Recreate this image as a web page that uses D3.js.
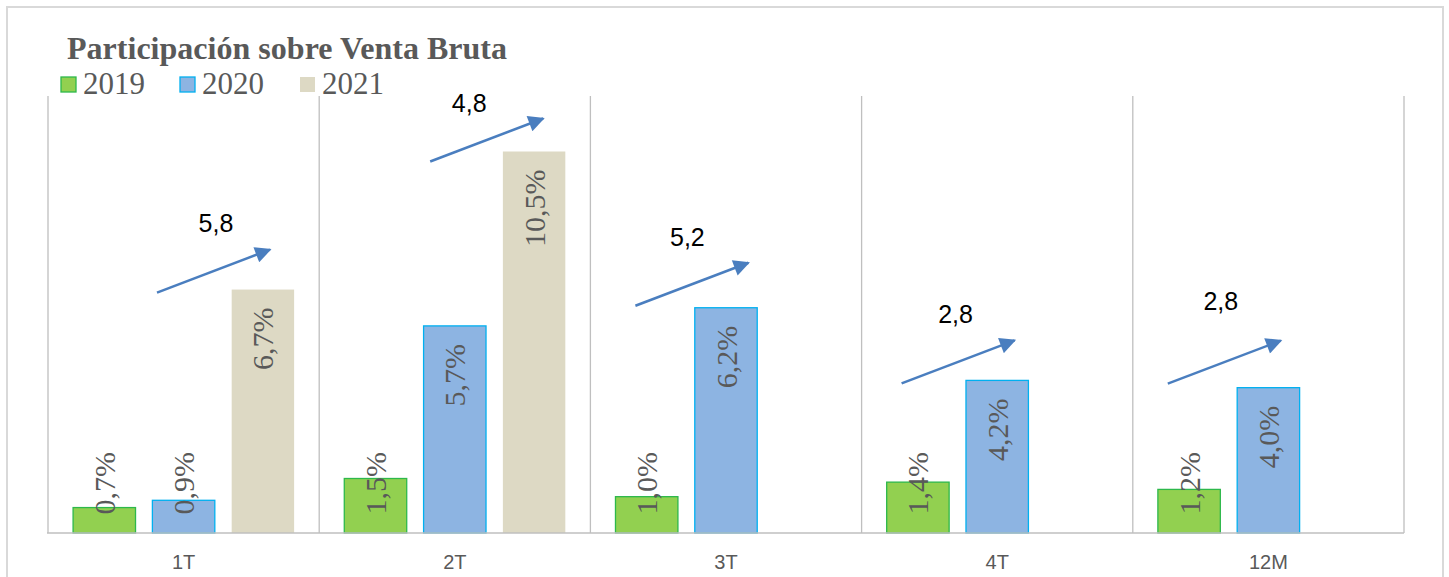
<!DOCTYPE html>
<html>
<head>
<meta charset="utf-8">
<script src="https://cdn.jsdelivr.net/npm/d3@7"></script>
<style>
  html, body { margin: 0; padding: 0; background: #fff; }
  svg { display: block; }
</style>
</head>
<body>
<svg id="chart" width="1449" height="577"></svg>
<script>
// ---- data ----
const categories = ["1T", "2T", "3T", "4T", "12M"];
const seriesNames = ["2019", "2020", "2021"];
const values2019 = [0.7, 1.5, 1.0, 1.4, 1.2];
const values2020 = [0.9, 5.7, 6.2, 4.2, 4.0];
const values2021 = [6.7, 10.5, null, null, null];
const growthLabels = ["5,8", "4,8", "5,2", "2,8", "2,8"];
const yDomain = [0, 12];
const title = "Participación sobre Venta Bruta";

// ---- styles / layout ----
const fills = ["#92D050", "#8DB4E2", "#DDD9C4"];
const strokes = ["#2DB84B", "#00B0F0", "none"];
const textGray = "#595959";
const arrowColor = "#4A7EBF";
const plot = { left: 48, right: 1404, top: 97, bottom: 533 };
// annotation layout offsets (pixels)
const arrowTailDX = [109, 111, 45, 40, 35];
const arrowTailDY = [3, 10, -2, 3, -4];
const arrowVec = [113, -43];
const labelDX = [59, 39, 52, 54, 53];
const labelDY = [-18, -7, -17, -17, -31];

const svg = d3.select("#chart");

// outer border
svg.append("rect").attr("x", 7).attr("y", 7).attr("width", 1436).attr("height", 580)
  .attr("fill", "#fff").attr("stroke", "#D9D9D9").attr("stroke-width", 2);

const x0 = d3.scaleBand().domain(categories).range([plot.left, plot.right]).paddingInner(0).paddingOuter(0);
const x1 = d3.scaleBand().domain(seriesNames).range([0, x0.bandwidth()]).paddingInner(0.2).paddingOuter(0.31);
const y = d3.scaleLinear().domain(yDomain).range([plot.bottom, plot.top]);

// vertical separators
const seps = categories.map(c => x0(c)).concat([plot.right]);
svg.append("g").selectAll("line").data(seps).join("line")
  .attr("x1", d => d).attr("x2", d => d)
  .attr("y1", y(yDomain[1]) - 1).attr("y2", y(0))
  .attr("stroke", "#BFBFBF").attr("stroke-width", 1.3);

// bars
const rows = categories.map((c, i) => ({
  cat: c,
  vals: [values2019[i], values2020[i], values2021[i]]
}));

const groups = svg.append("g").selectAll("g").data(rows).join("g")
  .attr("transform", d => `translate(${x0(d.cat)},0)`);

groups.selectAll("rect").data(d => d.vals.map((v, k) => ({ v, k, s: seriesNames[k] })).filter(e => e.v != null))
  .join("rect")
  .attr("x", e => x1(e.s) + 0.5)
  .attr("y", e => y(e.v))
  .attr("width", x1.bandwidth() - 1)
  .attr("height", e => y(0) - y(e.v))
  .attr("fill", e => fills[e.k])
  .attr("stroke", e => strokes[e.k])
  .attr("stroke-width", 1.3);

// rotated value labels
const fmt = v => d3.format(".1f")(v).replace(".", ",") + "%";
groups.selectAll("text.val").data(d => d.vals.map((v, k) => ({ v, k, s: seriesNames[k] })).filter(e => e.v != null))
  .join("text").attr("class", "val")
  .attr("transform", e => {
    const cx = x1(e.s) + x1.bandwidth() / 2;
    const topY = Math.min(y(e.v) + 18, y(0) - 81);
    return `translate(${cx},${topY}) rotate(-90)`;
  })
  .attr("text-anchor", "end")
  .attr("dominant-baseline", "central")
  .attr("font-family", "'Liberation Serif', 'Times New Roman', serif")
  .attr("font-size", 30)
  .attr("fill", textGray)
  .text(e => fmt(e.v));

// baseline axis
svg.append("line").attr("x1", plot.left - 1).attr("x2", plot.right)
  .attr("y1", y(0)).attr("y2", y(0)).attr("stroke", "#BFBFBF").attr("stroke-width", 1.5);

const xAxis = d3.axisBottom(x0).tickSize(0).tickPadding(22);
const ax = svg.append("g").attr("transform", `translate(0,${y(0)})`).call(xAxis);
ax.select(".domain").remove();
ax.selectAll("text").attr("font-family", "'Liberation Sans', Arial, sans-serif")
  .attr("font-size", 20).attr("fill", textGray);

// arrows and growth labels
const defs = svg.append("defs");
defs.append("marker").attr("id", "ah").attr("viewBox", "0 0 10 10")
  .attr("refX", 9).attr("refY", 5).attr("markerWidth", 7.5).attr("markerHeight", 6.5)
  .attr("markerUnits", "strokeWidth").attr("orient", "auto")
  .append("path").attr("d", "M0,0 L10,5 L0,10 Z").attr("fill", arrowColor);

const ann = rows.map((r, i) => {
  const maxV = d3.max(r.vals.filter(v => v != null));
  const tx = x0(r.cat) + arrowTailDX[i];
  const ty = y(maxV) + arrowTailDY[i];
  return { i, tx, ty, hx: tx + arrowVec[0], hy: ty + arrowVec[1], label: growthLabels[i] };
});

svg.append("g").selectAll("line").data(ann).join("line")
  .attr("x1", d => d.tx).attr("y1", d => d.ty)
  .attr("x2", d => d.hx).attr("y2", d => d.hy)
  .attr("stroke", arrowColor).attr("stroke-width", 2.5)
  .attr("marker-end", "url(#ah)");

svg.append("g").selectAll("text").data(ann).join("text")
  .attr("x", d => d.tx + labelDX[d.i])
  .attr("y", d => d.hy + labelDY[d.i])
  .attr("text-anchor", "middle")
  .attr("font-family", "'Liberation Sans', Arial, sans-serif")
  .attr("font-size", 25).attr("fill", "#000")
  .text(d => d.label);

// title
svg.append("text").attr("x", 67).attr("y", 59)
  .attr("font-family", "'Liberation Serif', 'Times New Roman', serif")
  .attr("font-weight", "bold").attr("font-size", 32).attr("fill", textGray)
  .attr("textLength", 440).attr("lengthAdjust", "spacing")
  .text(title);

// legend
const legX = [61, 180, 300];
const leg = svg.append("g").selectAll("g").data(seriesNames).join("g")
  .attr("transform", (d, k) => `translate(${legX[k]},77)`);
leg.append("rect").attr("x", 0).attr("y", 0).attr("width", 15).attr("height", 15)
  .attr("fill", (d, k) => fills[k]).attr("stroke", (d, k) => strokes[k]).attr("stroke-width", 1.3);
leg.append("text").attr("x", 22).attr("y", 17)
  .attr("font-family", "'Liberation Serif', 'Times New Roman', serif")
  .attr("font-size", 31).attr("fill", textGray)
  .text(d => d);
</script>
</body>
</html>
